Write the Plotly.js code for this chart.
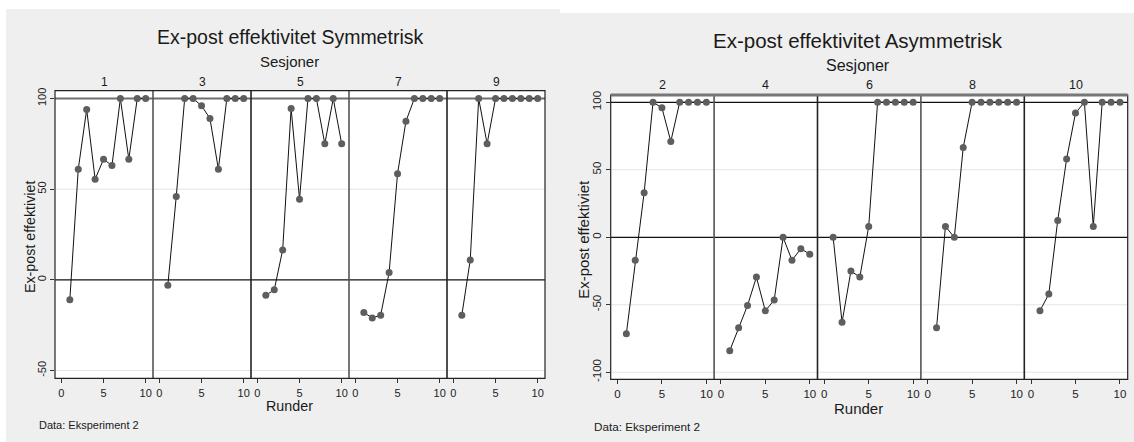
<!DOCTYPE html>
<html>
<head>
<meta charset="utf-8">
<script src="https://cdn.plot.ly/plotly-3.0.1.min.js"></script>
<style>html,body{margin:0;padding:0;background:#fff;}#chart{width:1134px;height:442px;}</style>
</head>
<body>
<div id="chart"></div>
<script>
// ---- data ----
const rounds = [1, 2, 3, 4, 5, 6, 7, 8, 9, 10];
const symSessions = ['1', '3', '5', '7', '9'];
const asymSessions = ['2', '4', '6', '8', '10'];
const s1 = [-11, 61, 94, 55.5, 66.5, 63, 100, 66.5, 100, 100];
const s3 = [-3, 46, 100, 100, 96, 89, 61, 100, 100, 100];
const s5 = [-8.5, -5.5, 16.5, 94.5, 44.5, 100, 100, 75, 100, 75];
const s7 = [-18, -21, -19.5, 4, 58.5, 87.5, 100, 100, 100, 100];
const s9 = [-19.5, 11, 100, 75, 100, 100, 100, 100, 100, 100];
const s2 = [-71.5, -17, 33, 100, 96, 71, 100, 100, 100, 100];
const s4 = [-84, -67, -50.5, -29.5, -54.5, -46.5, 0, -17, -8.5, -12.5];
const s6 = [0, -63, -25, -29.5, 8, 100, 100, 100, 100, 100];
const s8 = [-67, 8, 0, 66.5, 100, 100, 100, 100, 100, 100];
const s10 = [-54.5, -42, 12.5, 58, 92, 100, 8, 100, 100, 100];
const symValues = [s1, s3, s5, s7, s9];
const asymValues = [s2, s4, s6, s8, s10];
const xTicks = [0, 5, 10];
const symYTicks = [-50, 0, 50, 100];
const asymYTicks = [-100, -50, 0, 50, 100];
const titleSym = 'Ex-post effektivitet Symmetrisk';
const titleAsym = 'Ex-post effektivitet Asymmetrisk';
const groupLabel = 'Sesjoner';
const xLabel = 'Runder';
const yLabel = 'Ex-post effektiviet';
const note = 'Data: Eksperiment 2';

// ---- geometry ----
const W = 1134, H = 442;
const fx = x => x / W;
const fy = y => 1 - y / H;
const FONT = 'Liberation Sans, Arial, sans-serif';
const xRange = [-0.76, 10.87];
const L = {x0: 55, x1: 545, y0: 90.7, y1: 378.3, yr: [-54.3, 104.3]};
const R = {x0: 610.7, x1: 1127.7, y0: 95, y1: 379.3, yr: [-105.2, 105.4]};

const layout = {
  width: W, height: H,
  margin: {l: 0, r: 0, t: 0, b: 0},
  paper_bgcolor: '#efefef',
  plot_bgcolor: '#ffffff',
  showlegend: false,
  hovermode: false,
  font: {family: FONT, color: '#1a1a1a'},
  shapes: [],
  annotations: []
};
const traces = [];

function addChart(G, sessions, values, yTicks, yName, axOffset, fs, gridVals, topStyle) {
  const pw = (G.x1 - G.x0) / 5;
  layout[yName === 'y' ? 'yaxis' : 'yaxis2'] = {
    domain: [fy(G.y1), fy(G.y0)],
    range: G.yr,
    anchor: 'x' + (axOffset + 1 === 1 ? '' : axOffset + 1),
    tickvals: yTicks,
    ticktext: yTicks.map(String),
    tickangle: -90,
    ticks: 'outside', ticklen: 4, tickwidth: 1, tickcolor: '#333',
    tickfont: {size: fs.tick, family: FONT, color: '#222'},
    showgrid: false, zeroline: false, showline: false, fixedrange: true
  };
  for (let i = 0; i < 5; i++) {
    const n = axOffset + i + 1;
    const xn = n === 1 ? 'x' : 'x' + n;
    layout['xaxis' + (n === 1 ? '' : n)] = {
      domain: [fx(G.x0 + pw * i), fx(G.x0 + pw * (i + 1))],
      range: xRange,
      anchor: yName,
      tickvals: xTicks,
      ticks: 'outside', ticklen: 4, tickwidth: 1, tickcolor: '#333',
      tickfont: {size: fs.tick, family: FONT, color: '#222'},
      showgrid: false, zeroline: false, showline: false, fixedrange: true
    };
    traces.push({
      type: 'scatter', mode: 'lines+markers',
      x: rounds, y: values[i], xaxis: xn, yaxis: yName,
      line: {color: '#111', width: 1},
      marker: {color: '#5e5e5e', size: 7, line: {width: 0}},
      cliponaxis: false
    });
    layout.annotations.push({
      xref: 'paper', yref: 'paper', x: fx(G.x0 + pw * (i + 0.5)), y: fy(fs.panelY),
      text: sessions[i], showarrow: false, xanchor: 'center', yanchor: 'middle',
      font: {size: fs.panel, family: FONT, color: '#1a1a1a'}
    });
    if (i > 0) {
      layout.shapes.push({type: 'line', xref: 'paper', yref: 'paper', layer: 'above',
        x0: fx(G.x0 + pw * i), x1: fx(G.x0 + pw * i), y0: fy(G.y1), y1: fy(G.y0),
        line: {color: i % 2 ? '#555' : '#222', width: 1.6}});
    }
  }
  gridVals.forEach(v => layout.shapes.push({type: 'line', xref: 'paper', yref: yName, layer: 'below',
    x0: fx(G.x0), x1: fx(G.x1), y0: v, y1: v, line: {color: '#e4e4e4', width: 1}}));
  layout.shapes.push({type: 'line', xref: 'paper', yref: yName, layer: 'below',
    x0: fx(G.x0), x1: fx(G.x1), y0: 0, y1: 0, line: {color: '#111', width: 1.2}});
  layout.shapes.push({type: 'line', xref: 'paper', yref: yName, layer: 'below',
    x0: fx(G.x0), x1: fx(G.x1), y0: 100, y1: 100,
    line: topStyle.ref100});
  layout.shapes.push({type: 'rect', xref: 'paper', yref: 'paper', layer: 'above',
    x0: fx(G.x0), x1: fx(G.x1), y0: fy(G.y1), y1: fy(G.y0),
    line: {color: '#222', width: 1.2}, fillcolor: 'rgba(0,0,0,0)'});
  if (topStyle.top) {
    layout.shapes.push({type: 'line', xref: 'paper', yref: 'paper', layer: 'above',
      x0: fx(G.x0), x1: fx(G.x1), y0: fy(G.y0), y1: fy(G.y0), line: topStyle.top});
  }
  const A = (x, y, text, size, extra) => layout.annotations.push(Object.assign({
    xref: 'paper', yref: 'paper', x: fx(x), y: fy(y), text: text, showarrow: false,
    xanchor: 'center', yanchor: 'middle', font: {size: size, family: FONT, color: '#1a1a1a'}
  }, extra || {}));
  A(fs.cx, fs.titleY, fs.title, fs.titleSize);
  A(fs.cx, fs.groupY, groupLabel, fs.group);
  A(fs.cx, fs.xlabY, xLabel, fs.axis);
  A(fs.ylabX, (G.y0 + G.y1) / 2 + 2, yLabel, fs.axis, {textangle: -90});
  A(fs.noteX, fs.noteY, note, fs.note, {xanchor: 'left'});
}

addChart(L, symSessions, symValues, symYTicks, 'y', 0,
  {tick: 11, panel: 12, title: titleSym, titleSize: 19.5, titleY: 37, cx: 289.5,
   group: 15, groupY: 62, panelY: 82, axis: 14.3, xlabY: 406, ylabX: 29.6,
   note: 11, noteX: 37, noteY: 425},
  [50, -50],
  {ref100: {color: '#6f6f6f', width: 2.2}, top: null});
addChart(R, asymSessions, asymValues, asymYTicks, 'y2', 5,
  {tick: 11.5, panel: 12.5, title: titleAsym, titleSize: 20.5, titleY: 40.7, cx: 858,
   group: 16, groupY: 65, panelY: 85, axis: 15, xlabY: 408, ylabX: 582.7,
   note: 11.7, noteX: 591.5, noteY: 426},
  [50, -50, -100],
  {ref100: {color: '#111', width: 1.2}, top: {color: '#777', width: 3}});

// white outer strips
[[0, 560, 0, 9], [560, 1134, 0, 13], [0, 6, 0, 442]].forEach(r => layout.shapes.push({
  type: 'rect', xref: 'paper', yref: 'paper', layer: 'below',
  x0: fx(r[0]), x1: fx(r[1]), y0: fy(r[3]), y1: fy(r[2]),
  line: {width: 0}, fillcolor: '#ffffff'}));

Plotly.newPlot('chart', traces, layout, {displayModeBar: false, staticPlot: true});
</script>
</body>
</html>
